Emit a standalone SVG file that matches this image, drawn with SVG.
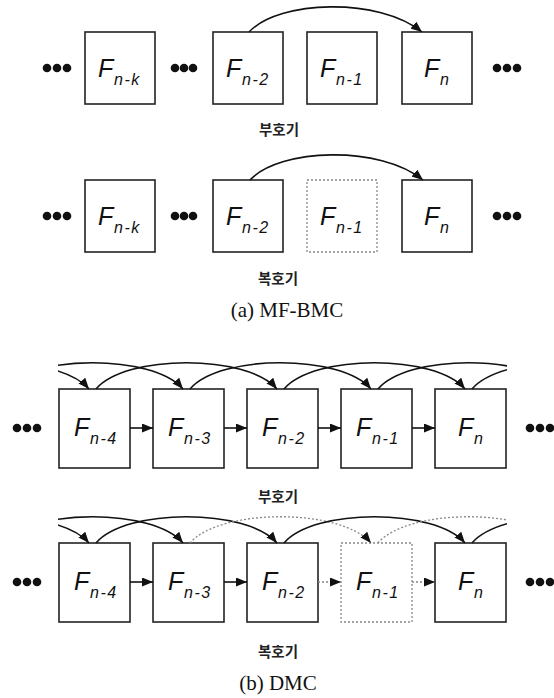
<svg xmlns="http://www.w3.org/2000/svg" width="554" height="698" viewBox="0 0 554 698">
<style>
.box{fill:#fff;stroke:#222;stroke-width:1.6}
.dbox{fill:#fff;stroke:#888;stroke-width:1.3;stroke-dasharray:2 2}
.F{font-family:"Liberation Sans",Arial,sans-serif;font-style:italic;font-size:25px;fill:#111}
.s{font-family:"Liberation Sans",Arial,sans-serif;font-style:italic;font-size:16px;fill:#111;letter-spacing:1.5px}
.ko{font-family:"Noto Sans CJK KR",sans-serif;font-size:14.5px;font-weight:bold;fill:#222;text-anchor:middle}
.cap{font-family:"Liberation Serif","Times New Roman",serif;font-size:21px;fill:#111;text-anchor:middle}
.ln{fill:none;stroke:#111;stroke-width:1.6}
.dl{fill:none;stroke:#888;stroke-width:1.3;stroke-dasharray:2 2}
.dot{fill:#111}
</style>
<defs>
<marker id="ah" viewBox="0 0 11 9" refX="11" refY="4.5" markerWidth="11" markerHeight="9" markerUnits="userSpaceOnUse" orient="auto">
<path d="M0,0 L11,4.5 L0,9 z" fill="#111"/>
</marker>
<clipPath id="cb1"><rect x="58" y="330" width="449" height="70"/></clipPath>
<clipPath id="cb2"><rect x="58" y="484" width="449" height="70"/></clipPath>
</defs>

<!-- (a) encoder -->
<g id="a-enc-dots">
<circle class="dot" cx="47" cy="68" r="4.3"/><circle class="dot" cx="57" cy="68" r="4.3"/><circle class="dot" cx="67" cy="68" r="4.3"/>
<circle class="dot" cx="175" cy="68" r="4.3"/><circle class="dot" cx="184" cy="68" r="4.3"/><circle class="dot" cx="193" cy="68" r="4.3"/>
<circle class="dot" cx="497" cy="68" r="4.3"/><circle class="dot" cx="507" cy="68" r="4.3"/><circle class="dot" cx="517" cy="68" r="4.3"/>
</g>
<g id="a-enc-Fnk"><rect class="box" x="85" y="32" width="70" height="72"/><text class="F" x="98" y="77">F</text><text class="s" x="114" y="85">n-k</text></g>
<g id="a-enc-Fn2"><rect class="box" x="213" y="32" width="70" height="72"/><text class="F" x="226" y="77">F</text><text class="s" x="242" y="85">n-2</text></g>
<g id="a-enc-Fn1"><rect class="box" x="307" y="32" width="70" height="72"/><text class="F" x="320" y="77">F</text><text class="s" x="336" y="85">n-1</text></g>
<g id="a-enc-Fn"><rect class="box" x="402" y="32" width="70" height="72"/><text class="F" x="424" y="77">F</text><text class="s" x="440" y="85">n</text></g>
<text class="ko" x="279" y="135">부호기</text>

<!-- (a) decoder -->
<g id="a-dec-dots">
<circle class="dot" cx="47" cy="216" r="4.3"/><circle class="dot" cx="57" cy="216" r="4.3"/><circle class="dot" cx="67" cy="216" r="4.3"/>
<circle class="dot" cx="175" cy="216" r="4.3"/><circle class="dot" cx="184" cy="216" r="4.3"/><circle class="dot" cx="193" cy="216" r="4.3"/>
<circle class="dot" cx="497" cy="216" r="4.3"/><circle class="dot" cx="507" cy="216" r="4.3"/><circle class="dot" cx="517" cy="216" r="4.3"/>
</g>
<g id="a-dec-Fnk"><rect class="box" x="85" y="180" width="70" height="72"/><text class="F" x="98" y="225">F</text><text class="s" x="114" y="233">n-k</text></g>
<g id="a-dec-Fn2"><rect class="box" x="213" y="180" width="70" height="72"/><text class="F" x="226" y="225">F</text><text class="s" x="242" y="233">n-2</text></g>
<g id="a-dec-Fn1"><rect class="dbox" x="307" y="180" width="70" height="72"/><text class="F" x="320" y="225">F</text><text class="s" x="336" y="233">n-1</text></g>
<g id="a-dec-Fn"><rect class="box" x="402" y="180" width="70" height="72"/><text class="F" x="424" y="225">F</text><text class="s" x="440" y="233">n</text></g>
<text class="ko" x="278" y="284">복호기</text>
<text class="cap" x="287" y="317">(a) MF-BMC</text>

<!-- (b) encoder -->
<g id="b-enc-dots">
<circle class="dot" cx="17" cy="428" r="4.3"/><circle class="dot" cx="27" cy="428" r="4.3"/><circle class="dot" cx="37" cy="428" r="4.3"/>
<circle class="dot" cx="530" cy="428" r="4.3"/><circle class="dot" cx="540" cy="428" r="4.3"/><circle class="dot" cx="550" cy="428" r="4.3"/>
</g>
<g id="b-enc-Fn4"><rect class="box" x="59" y="389" width="71" height="79"/><text class="F" x="74" y="436">F</text><text class="s" x="90" y="444">n-4</text></g>
<g id="b-enc-Fn3"><rect class="box" x="153" y="389" width="71" height="79"/><text class="F" x="168" y="436">F</text><text class="s" x="184" y="444">n-3</text></g>
<g id="b-enc-Fn2"><rect class="box" x="247" y="389" width="71" height="79"/><text class="F" x="262" y="436">F</text><text class="s" x="278" y="444">n-2</text></g>
<g id="b-enc-Fn1"><rect class="box" x="341" y="389" width="71" height="79"/><text class="F" x="356" y="436">F</text><text class="s" x="372" y="444">n-1</text></g>
<g id="b-enc-Fn"><rect class="box" x="435" y="389" width="71" height="79"/><text class="F" x="458" y="436">F</text><text class="s" x="474" y="444">n</text></g>
<text class="ko" x="278" y="502">부호기</text>

<!-- (b) decoder -->
<g id="b-dec-dots">
<circle class="dot" cx="17" cy="582" r="4.3"/><circle class="dot" cx="27" cy="582" r="4.3"/><circle class="dot" cx="37" cy="582" r="4.3"/>
<circle class="dot" cx="530" cy="582" r="4.3"/><circle class="dot" cx="540" cy="582" r="4.3"/><circle class="dot" cx="550" cy="582" r="4.3"/>
</g>
<g id="b-dec-Fn4"><rect class="box" x="59" y="543" width="71" height="79"/><text class="F" x="74" y="590">F</text><text class="s" x="90" y="598">n-4</text></g>
<g id="b-dec-Fn3"><rect class="box" x="153" y="543" width="71" height="79"/><text class="F" x="168" y="590">F</text><text class="s" x="184" y="598">n-3</text></g>
<g id="b-dec-Fn2"><rect class="box" x="247" y="543" width="71" height="79"/><text class="F" x="262" y="590">F</text><text class="s" x="278" y="598">n-2</text></g>
<g id="b-dec-Fn1"><rect class="dbox" x="341" y="543" width="71" height="79"/><text class="F" x="356" y="590">F</text><text class="s" x="372" y="598">n-1</text></g>
<g id="b-dec-Fn"><rect class="box" x="435" y="543" width="71" height="79"/><text class="F" x="458" y="590">F</text><text class="s" x="474" y="598">n</text></g>
<text class="ko" x="278" y="657">복호기</text>
<text class="cap" x="278" y="690">(b) DMC</text>

<g id="connectors">
<!-- (a) -->
<path class="ln" d="M249,32 C279,0 379,-3 422,32" marker-end="url(#ah)"/>
<path class="ln" d="M250,180 C280,148 380,145 423,180" marker-end="url(#ah)"/>
<!-- (b) encoder arcs -->
<g clip-path="url(#cb1)">
<path class="ln" d="M-92,389 C-62,354 59,354 89,389" marker-end="url(#ah)"/>
<path class="ln" d="M2,389 C32,354 153,354 183,389" marker-end="url(#ah)"/>
<path class="ln" d="M96,389 C126,354 247,354 277,389" marker-end="url(#ah)"/>
<path class="ln" d="M190,389 C220,354 341,354 371,389" marker-end="url(#ah)"/>
<path class="ln" d="M284,389 C314,354 435,354 465,389" marker-end="url(#ah)"/>
<path class="ln" d="M378,389 C408,354 529,354 559,389"/>
<path class="ln" d="M472,389 C502,354 623,354 653,389"/>
</g>
<!-- (b) encoder horizontal -->
<path class="ln" d="M130,428 H153" marker-end="url(#ah)"/>
<path class="ln" d="M224,428 H247" marker-end="url(#ah)"/>
<path class="ln" d="M318,428 H341" marker-end="url(#ah)"/>
<path class="ln" d="M412,428 H435" marker-end="url(#ah)"/>
<!-- (b) decoder arcs -->
<g clip-path="url(#cb2)">
<path class="ln" d="M-92,543 C-62,508 59,508 89,543" marker-end="url(#ah)"/>
<path class="ln" d="M2,543 C32,508 153,508 183,543" marker-end="url(#ah)"/>
<path class="ln" d="M96,543 C126,508 247,508 277,543" marker-end="url(#ah)"/>
<path class="dl" d="M190,543 C220,508 341,508 371,543" marker-end="url(#ah)"/>
<path class="ln" d="M284,543 C314,508 435,508 465,543" marker-end="url(#ah)"/>
<path class="dl" d="M378,543 C408,508 529,508 559,543"/>
<path class="ln" d="M472,543 C502,508 623,508 653,543"/>
</g>
<!-- (b) decoder horizontal -->
<path class="ln" d="M130,582 H153" marker-end="url(#ah)"/>
<path class="ln" d="M224,582 H247" marker-end="url(#ah)"/>
<path class="dl" d="M318,582 H341" marker-end="url(#ah)"/>
<path class="dl" d="M412,582 H435" marker-end="url(#ah)"/>
</g>
</svg>
